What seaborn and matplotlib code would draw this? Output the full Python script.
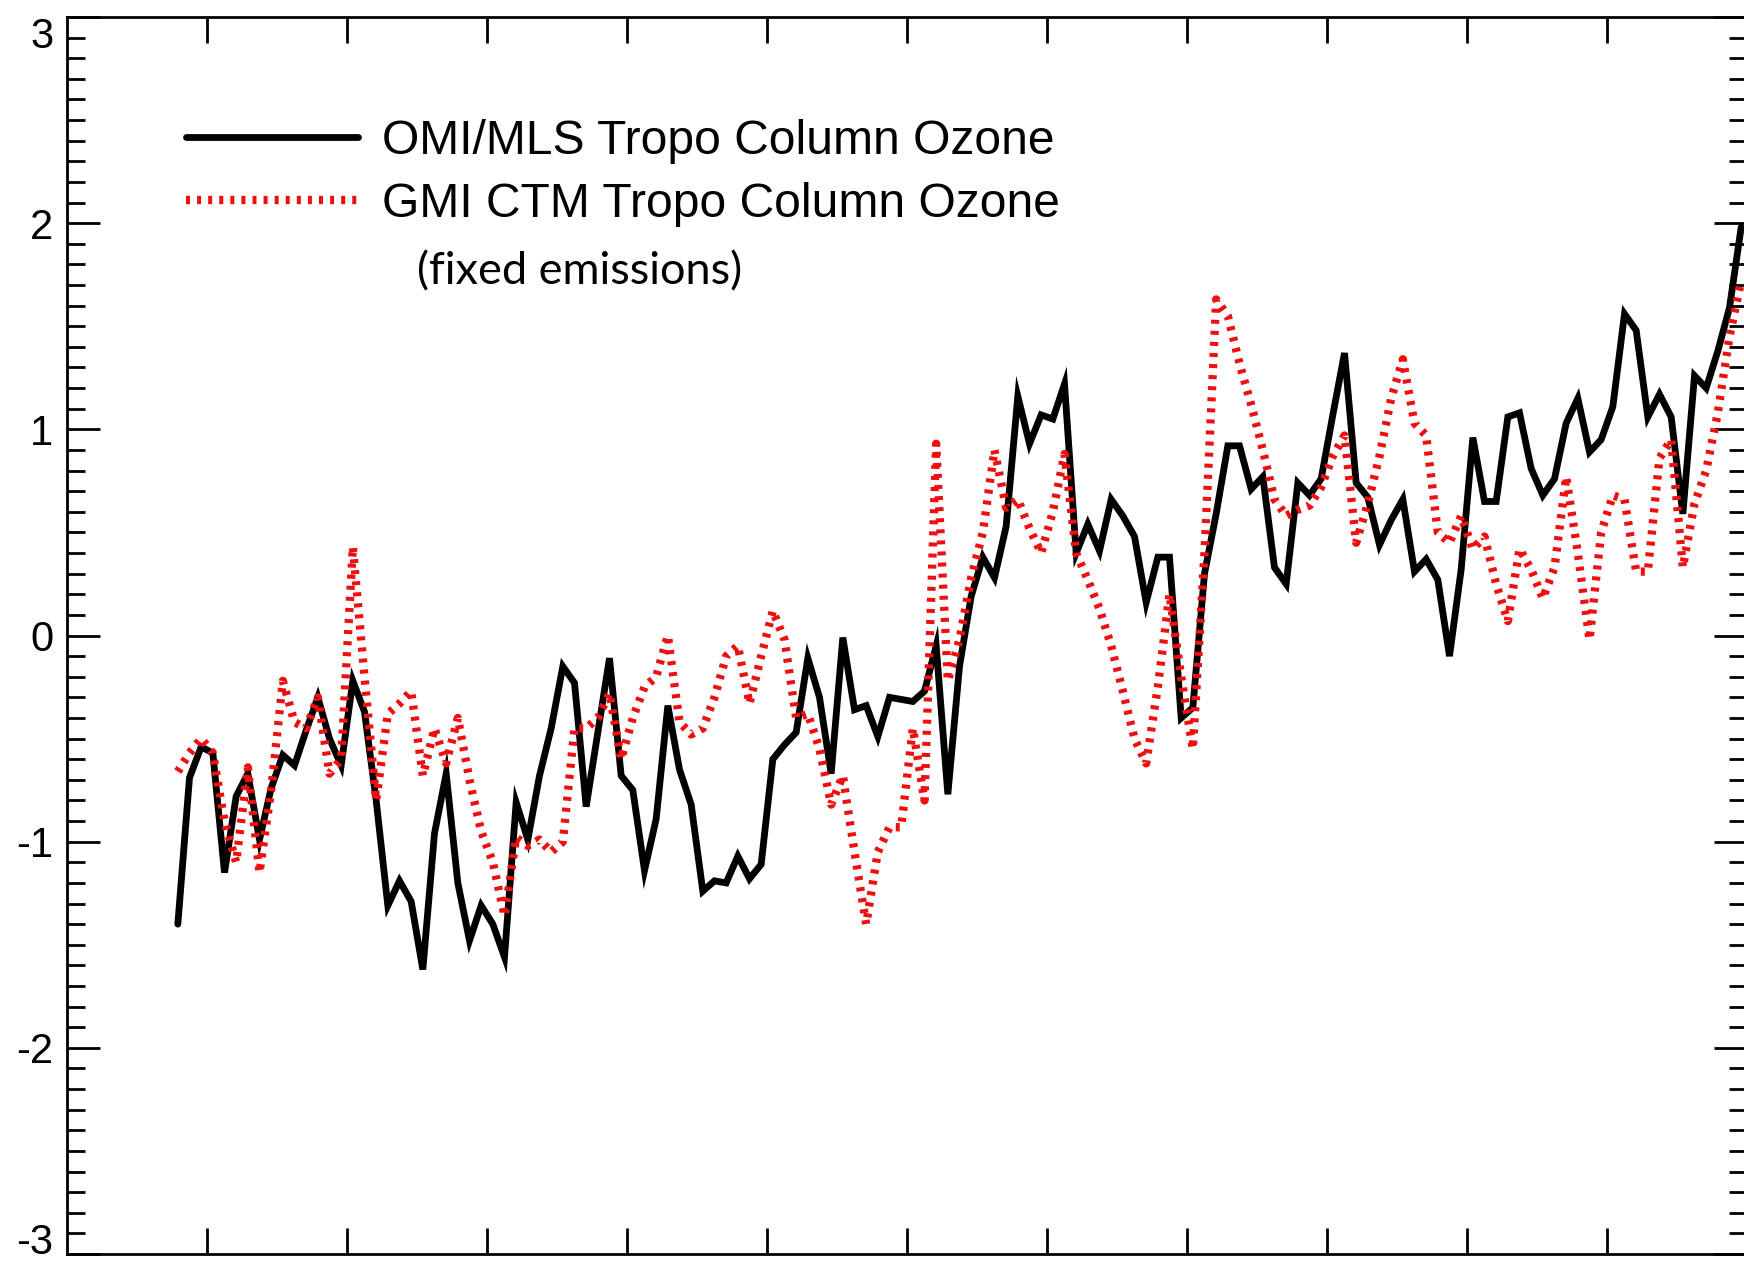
import numpy as np
import pandas as pd
import matplotlib
matplotlib.use("Agg")
import matplotlib.pyplot as plt
import seaborn as sns
from matplotlib.ticker import FixedLocator, MultipleLocator

# Monthly tropospheric column ozone anomalies, Oct 2004 - Dec 2015
months = pd.period_range("2004-10", "2015-12", freq="M")

omi_mls = [
    -1.40, -0.69, -0.54, -0.57, -1.15, -0.78, -0.67, -0.99, -0.74, -0.58,
    -0.63, -0.46, -0.30, -0.50, -0.63, -0.22, -0.37, -0.80, -1.31, -1.19,
    -1.29, -1.62, -0.96, -0.67, -1.20, -1.48, -1.31, -1.40, -1.56, -0.81,
    -0.99, -0.68, -0.45, -0.15, -0.23, -0.83, -0.47, -0.11, -0.68, -0.75,
    -1.14, -0.89, -0.34, -0.65, -0.82, -1.24, -1.19, -1.20, -1.07, -1.18,
    -1.11, -0.60, -0.53, -0.47, -0.11, -0.30, -0.67, -0.01, -0.36, -0.34,
    -0.49, -0.30, -0.31, -0.32, -0.27, -0.05, -0.77, -0.15, 0.19, 0.38,
    0.28, 0.53, 1.16, 0.93, 1.07, 1.05, 1.22, 0.40, 0.54, 0.41,
    0.66, 0.58, 0.48, 0.16, 0.38, 0.38, -0.40, -0.35, 0.30, 0.59,
    0.92, 0.92, 0.71, 0.77, 0.33, 0.25, 0.74, 0.68, 0.76, 1.07,
    1.37, 0.74, 0.67, 0.44, 0.56, 0.66, 0.31, 0.37, 0.27, -0.10,
    0.32, 0.96, 0.65, 0.65, 1.06, 1.08, 0.81, 0.68, 0.76, 1.03,
    1.15, 0.89, 0.95, 1.11, 1.56, 1.48, 1.06, 1.17, 1.06, 0.59,
    1.26, 1.20, 1.38, 1.59, 1.98,
]

gmi_ctm = [
    -0.66, -0.57, -0.50, -0.57, -0.90, -1.10, -0.64, -1.15, -0.75, -0.22,
    -0.42, -0.45, -0.30, -0.67, -0.60, 0.43, -0.20, -0.80, -0.38, -0.33,
    -0.27, -0.68, -0.45, -0.62, -0.40, -0.70, -0.95, -1.10, -1.36, -0.98,
    -1.02, -0.99, -1.05, -1.00, -0.45, -0.45, -0.40, -0.28, -0.60, -0.40,
    -0.25, -0.20, 0.00, -0.42, -0.48, -0.45, -0.30, -0.10, -0.05, -0.33,
    -0.10, 0.12, -0.02, -0.40, -0.38, -0.55, -0.82, -0.68, -1.05, -1.40,
    -1.05, -0.93, -0.93, -0.45, -0.80, 0.93, -0.22, -0.02, 0.28, 0.50,
    0.90, 0.62, 0.66, 0.52, 0.40, 0.60, 0.88, 0.40, 0.27, 0.13,
    -0.05, -0.27, -0.50, -0.62, -0.25, 0.20, -0.20, -0.55, 0.40, 1.63,
    1.55, 1.32, 1.12, 0.90, 0.66, 0.58, 0.61, 0.63, 0.72, 0.87,
    0.97, 0.45, 0.64, 0.87, 1.15, 1.34, 1.03, 0.97, 0.50, 0.45,
    0.58, 0.42, 0.48, 0.25, 0.07, 0.42, 0.32, 0.18, 0.33, 0.77,
    0.40, -0.02, 0.50, 0.68, 0.66, 0.31, 0.31, 0.86, 0.95, 0.33,
    0.64, 0.80, 1.08, 1.45, 1.72,
]

series_labels = ["OMI/MLS Tropo Column Ozone", "GMI CTM Tropo Column Ozone"]
note_text = "(fixed emissions)"
ytick_values = [-3, -2, -1, 0, 1, 2, 3]
ytick_text = ["-3", "-2", "-1", "0", "1", "2", "3"]
year_ticks = list(range(2005, 2016))

df = pd.DataFrame({
    "year": months.year + (months.month - 0.5) / 12.0,
    "omi": omi_mls,
    "gmi": gmi_ctm,
})

sns.set_style("ticks")
plt.rcParams["font.family"] = ["Liberation Sans", "DejaVu Sans"]
plt.rcParams.update({
    "text.color": "black",
    "axes.labelcolor": "black",
    "xtick.color": "black",
    "ytick.color": "black",
    "axes.edgecolor": "black",
})

W, H = 1744, 1261
fig = plt.figure(figsize=(W / 100, H / 100), dpi=100)
ax = fig.add_axes([67 / W, 7 / H, 1680 / W, 1237 / H])

sns.lineplot(data=df, x="year", y="omi", ax=ax, color="black",
             linewidth=4.9, legend=False)
sns.lineplot(data=df, x="year", y="gmi", ax=ax, color="#ee1010",
             linewidth=6.0, legend=False)

black_line, red_line = ax.lines[0], ax.lines[1]
black_line.set_solid_joinstyle("miter")
red_line.set_linestyle((0, (0.48, 0.85)))
red_line.set_dash_capstyle("butt")

ax.set_xlim(2004, 2016)
ax.set_ylim(-3, 3)
ax.set_xlabel("")
ax.set_ylabel("")

ax.xaxis.set_major_locator(FixedLocator(year_ticks))
ax.tick_params(axis="x", which="major", direction="in", length=18.5,
               width=2.0, top=True, bottom=True, labelbottom=False)

ax.yaxis.set_major_locator(FixedLocator(ytick_values))
ax.yaxis.set_minor_locator(MultipleLocator(0.1))
ax.set_yticklabels(ytick_text)
ax.tick_params(axis="y", which="major", direction="in", length=23.5,
               width=2.0, left=True, right=True, labelsize=30, pad=10,
               labelcolor="black")
ax.tick_params(axis="y", which="minor", direction="in", length=13,
               width=2.0, left=True, right=True)

for side in ["left", "right", "top", "bottom"]:
    ax.spines[side].set_linewidth(2.0)
    ax.spines[side].set_color("black")

# keep the end labels inside the frame
yticks = ax.yaxis.get_major_ticks()
yticks[0].label1.set_verticalalignment("baseline")
yticks[-1].label1.set_verticalalignment("top")

leg = ax.legend(handles=[black_line, red_line], labels=series_labels,
                loc="upper left", bbox_to_anchor=(186 / W, 1 - 119 / H),
                bbox_transform=fig.transFigure, frameon=False, fontsize=34.6,
                handlelength=3.58, handletextpad=0.5, labelspacing=0.37,
                borderpad=0, borderaxespad=0)
for txt in leg.get_texts():
    txt.set_color("black")

fig.text(417 / W, 1 - 272 / H, note_text, ha="left", va="center",
         fontsize=32.5, family=["Lato", "DejaVu Sans"], color="black")

fig.savefig("out.png", dpi=100)
